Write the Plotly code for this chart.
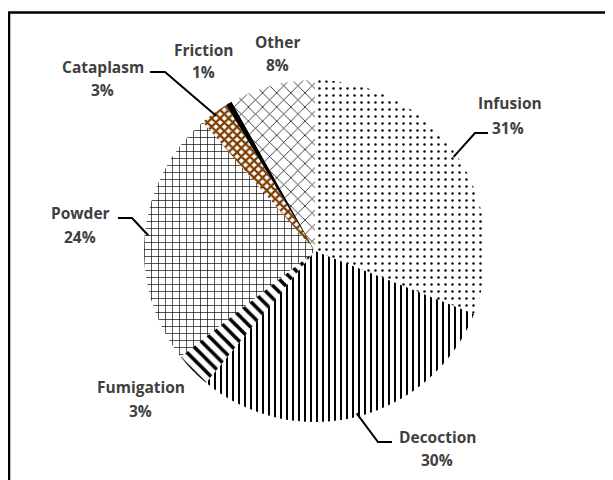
import math
import plotly.graph_objects as go

# data
methods = ["Infusion", "Decoction", "Fumigation", "Powder", "Cataplasm", "Friction", "Other"]
shares = [31.0, 30.0, 3.4, 24.2, 2.7, 0.6, 8.1]

# styling per slice
shapes_ = [".", "|", "\\", "+", "x", "", "x"]
fg = ["black", "black", "black", "black", "#7A3C00", "black", "black"]
bg = ["white", "white", "white", "white", "white", "black", "white"]
psize = [7, 6, 9, 7, 6, 8, 10]
psolid = [0.1, 0.33, 0.4, 0.18, 0.6, 1, 0.14]

OFF = 8  # page body margin
W, H = 613 - OFF, 480 - OFF
cx, cy, R = 315, 251, 171


def px(x):
    return (x - OFF) / W


def py(y):
    return 1 - (y - OFF) / H


fig = go.Figure()

fig.add_trace(
    go.Pie(
        labels=methods,
        values=shares,
        sort=False,
        direction="clockwise",
        rotation=0,
        textinfo="none",
        hoverinfo="label+percent",
        showlegend=False,
        domain=dict(x=[px(cx - R), px(cx + R)], y=[py(cy + R), py(cy - R)]),
        marker=dict(
            colors=bg,
            line=dict(width=0),
            pattern=dict(
                shape=shapes_,
                fgcolor=fg,
                bgcolor=bg,
                fgopacity=1,
                size=psize,
                solidity=psolid,
                fillmode="replace",
            ),
        ),
    )
)

# label centres (name line, percent line) in page px
label_pos = {
    "Infusion": ((510, 103), (508, 128)),
    "Decoction": ((437, 437), (437, 460)),
    "Fumigation": ((141, 387), (140, 411)),
    "Powder": ((80, 213), (80, 237)),
    "Cataplasm": ((103, 67), (102, 90)),
    "Friction": ((204, 50), (203, 72)),
    "Other": ((277, 42), (277, 65)),
}
elbows = {
    "Infusion": [(475, 133), (488, 133)],
    "Decoction": [(378, 442), (392, 442)],
    "Powder": [(132, 218), (118, 218)],
    "Cataplasm": [(165, 72), (150, 72)],
}

font = dict(family="Open Sans", size=15.5, color="#404040")

total = sum(shares)
cum = 0
for name, v in zip(methods, shares):
    mid = (cum + v / 2) / total * 2 * math.pi
    cum += v
    pct = round(v / total * 100)
    (nx, ny), (qx, qy) = label_pos[name]
    for txt, x, y in [(name, nx, ny), (f"{pct}%", qx, qy)]:
        fig.add_annotation(
            x=px(x), y=py(y), xref="paper", yref="paper",
            xanchor="center", yanchor="middle",
            text=f"<b>{txt}</b>", showarrow=False, font=font,
        )
    if name in elbows:
        sx = cx + 0.98 * R * math.sin(mid)
        sy = cy - 0.98 * R * math.cos(mid)
        pts = [(sx, sy)] + elbows[name]
        path = "M " + " L ".join(f"{px(x)},{py(y)}" for x, y in pts)
        fig.add_shape(type="path", path=path, xref="paper", yref="paper",
                      line=dict(color="black", width=2))

# outer frame (right and bottom edges fall outside the picture)
fig.add_shape(type="rect", xref="paper", yref="paper",
              x0=px(9), y0=py(520), x1=px(660), y1=py(12.5),
              line=dict(color="black", width=2.5))

fig.update_layout(
    width=W,
    height=H,
    margin=dict(l=0, r=0, t=0, b=0),
    paper_bgcolor="white",
    plot_bgcolor="white",
)

fig.write_html("out.html")
